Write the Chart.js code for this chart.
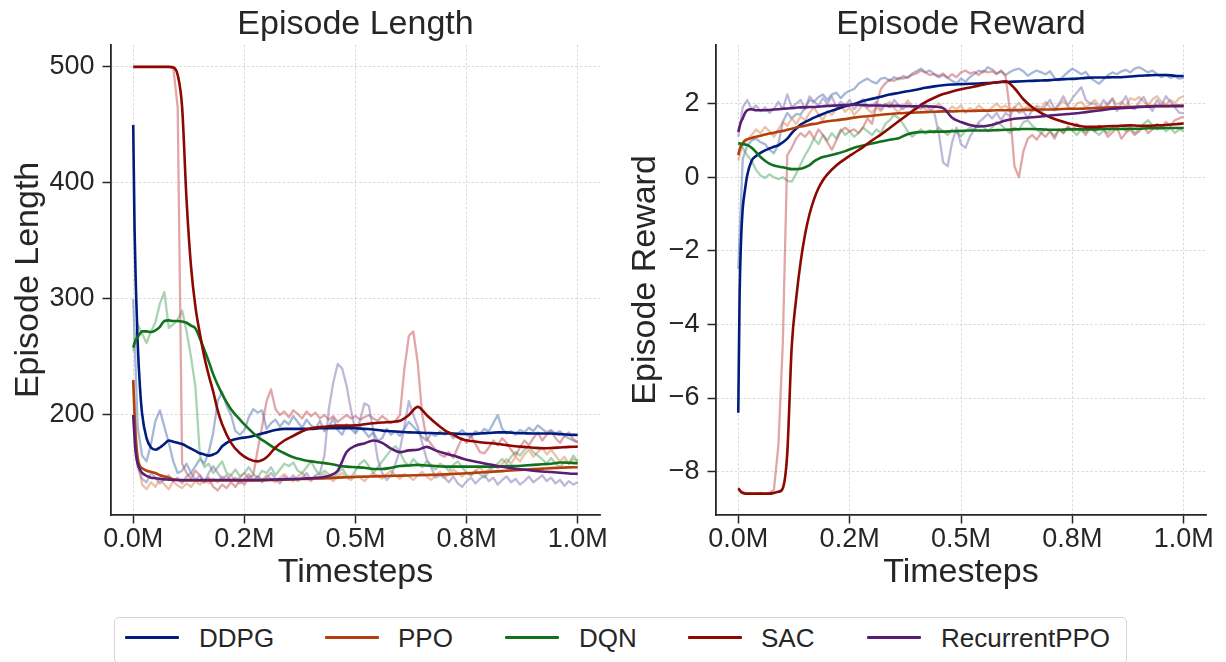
<!DOCTYPE html>
<html>
<head>
<meta charset="utf-8">
<script src="https://cdn.jsdelivr.net/npm/chart.js@4/dist/chart.umd.min.js"></script>
<style>
  body { margin: 0; background: #fff; }
  #page { position: relative; width: 1226px; height: 662px; overflow: hidden;
          font-family: 'Liberation Sans', Arial, sans-serif; color: #262626; }
  #lenChart { position: absolute; left: 0; top: 0; }
  #rewChart { position: absolute; left: 613px; top: 0; }
  #legend { position: absolute; left: 114px; top: 617px; width: 1013px; height: 47px;
            border: 1px solid #d4d4d4; border-radius: 5px; box-sizing: border-box; }
  .swatch { position: absolute; top: 18px; width: 54px; height: 3px; border-radius: 1px; }
  .label { position: absolute; top: 5px; font-size: 26px; line-height: 30px; white-space: nowrap; }
</style>
</head>
<body>
<div id="page">
  <canvas id="lenChart" width="613" height="600"></canvas>
  <canvas id="rewChart" width="613" height="600"></canvas>
  <div id="legend"></div>
</div>
<script>
// algorithms and colours
const algos = ['DDPG', 'PPO', 'DQN', 'SAC', 'RecurrentPPO'];
const darkColors = ['#001c7f', '#b1400d', '#12711c', '#8c0800', '#591e71'];
const rawColors = ['rgba(76,114,176,0.5)', 'rgba(221,132,82,0.5)', 'rgba(85,168,104,0.5)', 'rgba(196,78,82,0.5)', 'rgba(129,114,179,0.5)'];

// timesteps (thousands)
const rawSteps = [0,10,20,30,40,50,60,70,80,90,100,110,120,130,140,150,160,170,180,190,
  200,210,220,230,240,250,260,270,280,290,300,310,320,330,340,350,360,370,380,390,
  400,410,420,430,440,450,460,470,480,490,500,510,520,530,540,550,560,570,580,590,
  600,610,620,630,640,650,660,670,680,690,700,710,720,730,740,750,760,770,780,790,
  800,810,820,830,840,850,860,870,880,890,900,910,920,930,940,950,960,970,980,990,1000];
const smoothSteps = [0,3,6,10,15,
  20,30,40,50,60,70,80,90,100,
  110,120,130,140,150,160,170,180,190,200,
  220,240,260,280,300,320,340,360,380,400,
  420,440,460,480,500,520,540,560,580,600,
  620,640,660,680,700,720,740,760,780,800,
  820,840,860,880,900,920,940,960,980,1000];

const xTicks = [0, 250000, 500000, 750000, 1000000];
const xTickLabels = ['0.0M', '0.2M', '0.5M', '0.8M', '1.0M'];
const lenTicks = [200, 300, 400, 500];
const lenTickLabels = ['200', '300', '400', '500'];
const rewTicks = [-8, -6, -4, -2, 0, 2];
const rewTickLabels = ['\u22128', '\u22126', '\u22124', '\u22122', '0', '2'];

// Episode Length, raw
const rawLenDDPG = [300,190,165,160,175,195,204,190,176,160,
  150,152,158,150,156,162,158,168,185,212,
  220,208,200,186,183,187,198,205,202,204,
  188,193,196,190,195,192,199,194,189,196,
  191,188,195,186,190,197,187,183,192,188,
  184,190,186,181,185,178,180,188,183,186,
  182,188,194,190,186,181,178,184,182,186,
  183,185,180,184,187,183,181,186,184,188,
  186,193,200,188,184,186,183,187,185,189,
  186,191,188,185,187,184,186,182,180,178,176];
const rawLenPPO = [230,160,140,136,142,138,145,140,136,143,
  139,137,141,138,143,140,144,141,145,142,
  147,144,148,143,146,150,145,143,147,144,
  148,145,142,146,149,145,143,147,150,146,
  143,147,145,149,146,143,147,150,146,144,
  148,146,143,147,150,147,145,149,152,148,
  145,149,147,144,148,151,147,144,148,151,
  146,149,153,150,147,151,148,152,155,150,
  153,157,154,158,162,158,164,160,166,170,
  164,168,172,166,170,165,160,164,158,162,160];
const rawLenDQN = [255,278,270,262,272,280,296,306,275,278,
  282,290,272,250,224,165,155,158,150,155,
  160,150,148,153,147,150,155,149,146,152,
  150,155,148,153,158,156,159,152,150,155,
  160,153,148,152,149,146,150,154,148,146,
  152,158,161,156,150,155,160,165,170,173,
  168,160,156,162,158,155,160,157,153,158,
  156,152,157,160,155,150,148,152,149,146,
  151,155,158,162,158,164,168,165,170,173,
  168,165,162,158,163,158,155,160,158,165,160];
const rawLenSAC = [500,500,500,500,500,500,500,500,500,500,
  465,158,150,145,152,148,142,146,138,135,
  140,137,142,138,144,140,146,148,170,190,
  212,222,205,200,203,198,204,201,197,203,
  199,202,197,200,196,199,194,197,200,197,
  199,196,198,200,197,195,199,196,193,195,
  200,240,268,272,245,200,180,175,170,166,
  164,168,163,172,180,176,182,175,168,167,
  172,178,174,180,176,170,165,172,178,174,
  180,185,178,183,186,180,176,182,185,179,177];
const rawLenRPPO = [200,155,145,142,150,146,141,145,148,143,
  146,141,147,150,144,148,142,150,156,150,
  145,148,143,146,141,145,149,144,147,142,
  146,150,145,141,147,144,148,143,146,150,
  144,148,150,165,205,228,244,240,225,204,
  186,195,210,208,186,162,150,144,148,158,
  170,190,212,200,190,176,162,155,146,148,
  146,142,147,141,138,143,146,141,145,148,
  143,146,140,144,147,142,145,140,143,147,
  142,145,148,143,146,141,144,139,143,140,142];

// Episode Length, smoothed
const smLenDDPG = [450,360,310,262,225,
  201,180,172,170,172,175,178,177,176,
  175,173,171,169,167,166,165,166,168,173,
  178,180,181,183,185,187,188,188,188,188,
  188.5,188.5,188.5,188.5,188.5,188,187.5,186.5,186,185.5,
  185,184.8,184.5,184.3,184,184,183.6,183.6,184,184.5,
  185,185,184.5,184.2,184,184,184,183.5,183,182.8];
const smLenPPO = [230,200,178,163,156,
  154,152,151,150,148,147,146,144.5,144,
  143.5,143.5,143.5,143.5,143.5,143.5,143.5,143.5,143.5,143.5,
  143.5,143.5,143.5,143.5,143.8,144,144.2,144.5,144.8,145,
  145.3,145.6,146,146.3,146.6,146.9,147.1,147.3,147.5,147.7,
  147.9,148.1,148.3,148.5,148.8,149.2,149.6,150,150.4,150.9,
  151.4,151.9,152.4,152.9,153.4,153.8,154.2,154.5,154.8,155];
const smLenDQN = [258,262,265,267,270,
  272,272,271.5,273,276,281,281.5,281,281,
  280.5,279.5,277,274.5,266,256,246,235,226,218,
  205,196,188,181,176,171,167,163.5,161.5,160,
  159,158,156.5,155.5,155,154.5,153.5,153.5,154.5,156,
  156.5,157,156.5,156,155.5,155.5,155.5,155.5,155.5,155.5,
  155.5,156,156,156.5,157,157.5,158,159,158.8,158.4];
const smLenSAC = [500,500,500,500,500,
  500,500,500,500,500,500,500,499.5,493,
  465,385,328,293,270,250,234,220,204,192,
  176,167,162,160,163.5,172,178,182,186,188.5,
  189.5,190.3,190.8,190.8,191,192,192.8,193.5,194,195,
  200,207,200,193,187,183,179,177.5,176.5,175.8,
  175,174,173,172.5,171.8,171.3,171.5,172,172.5,172.7];
const smLenRPPO = [200,180,166,158,153,
  150,147.5,146,145.5,145,144.5,144.3,144,144,
  144,144,144,144,144,144,144,144,144,144,
  144,144,144,144,144.2,144.4,144.6,144.8,145,145.5,
  146,147.5,152,168,173.5,175.5,178,176,171,168,
  169.5,170,172.5,169.5,167,165,162.5,160.5,159,157.5,
  156,154.8,153.6,152.8,152,151.3,150.8,150.2,149.6,149.2];

// Episode Reward, raw
const rawRewDDPG = [-2.5,0.5,0.85,1.0,1.05,0.95,0.9,0.75,0.65,0.9,
  1.5,1.75,1.6,1.72,1.7,1.9,2.1,2.05,2.18,2.25,
  2.1,2.25,2.3,2.15,2.28,2.35,2.4,2.54,2.62,2.68,
  2.6,2.55,2.68,2.7,2.62,2.72,2.66,2.75,2.7,2.81,
  2.88,2.95,2.85,2.9,2.8,2.72,2.78,2.7,2.62,2.55,
  2.68,2.6,2.72,2.81,2.9,2.85,2.99,2.93,2.82,2.88,
  2.78,2.86,2.92,2.95,2.88,2.76,2.84,2.9,2.85,2.8,
  2.88,2.7,2.63,2.75,2.86,2.95,2.88,2.8,2.86,2.7,
  2.62,2.54,2.66,2.78,2.85,2.8,2.88,2.92,2.85,2.95,
  2.99,2.92,2.85,2.9,2.8,2.72,2.78,2.7,2.74,2.68,2.7];
const rawRewPPO = [0.45,0.9,1.0,1.15,1.3,1.2,1.37,1.25,1.1,1.3,
  1.5,1.4,1.6,1.45,1.65,1.55,1.75,1.9,1.7,1.55,
  1.8,1.7,1.85,1.95,1.78,1.9,1.7,1.82,1.98,1.85,
  1.75,1.9,1.8,1.95,2.05,1.88,1.76,1.92,2.09,1.95,
  1.82,1.95,1.85,1.78,1.9,2.0,1.88,1.8,1.92,1.85,
  1.95,1.75,1.88,1.82,1.95,1.85,1.78,1.9,2.0,1.88,
  1.95,1.82,1.9,2.02,1.85,1.92,1.8,1.95,1.88,2.05,
  1.9,1.82,1.95,2.08,1.92,1.85,2.0,2.05,1.9,1.98,
  2.1,1.95,1.88,2.02,2.12,1.98,2.05,1.92,2.15,2.1,
  2.18,2.05,1.95,2.12,2.2,2.05,1.98,2.1,2.02,2.15,2.2];
const rawRewDQN = [0.92,0.8,0.6,0.45,0.2,0.05,-0.02,0.08,0.0,-0.05,
  0.0,-0.1,-0.12,0.1,0.35,0.6,0.8,1.05,0.9,1.15,
  1.0,1.2,1.05,1.3,1.15,1.25,1.1,1.2,1.35,1.25,
  1.15,1.3,1.2,1.45,1.55,1.7,1.6,1.45,1.25,1.1,
  1.2,1.3,1.18,1.28,1.2,1.35,1.25,1.15,1.3,1.22,
  1.12,1.25,1.35,1.28,1.45,1.38,1.25,1.35,1.5,1.42,
  1.3,1.2,1.35,1.28,1.5,1.55,1.4,1.3,1.2,1.32,
  1.25,1.12,1.3,1.2,1.35,1.28,1.15,1.3,1.22,1.38,
  1.25,1.15,1.28,1.2,1.35,1.3,1.42,1.25,1.35,1.2,
  1.3,1.45,1.55,1.4,1.3,1.38,1.25,1.35,1.2,1.3,1.25];
const rawRewSAC = [-8.5,-8.55,-8.6,-8.6,-8.6,-8.58,-8.6,-8.58,-8.5,-7.3,
  -4.5,0.6,0.8,1.05,1.2,1.1,1.25,1.05,1.3,1.15,
  0.95,0.75,1.0,1.25,1.35,1.25,1.3,1.2,1.35,1.6,
  1.45,1.95,2.4,2.55,2.65,2.62,2.7,2.68,2.72,2.78,
  2.82,2.9,2.85,2.78,2.8,2.75,2.82,2.7,2.8,2.72,
  2.85,2.9,2.82,2.86,2.78,2.9,2.85,2.88,2.8,2.9,
  2.75,1.8,0.3,0.0,0.7,1.05,1.15,1.02,1.2,1.1,
  1.25,1.05,1.3,1.2,1.38,1.28,1.45,1.3,1.15,1.35,
  1.25,1.4,1.3,1.1,1.22,1.35,1.05,1.2,1.3,1.15,
  1.25,1.38,1.2,1.3,1.45,1.35,1.5,1.4,1.55,1.6,1.65];
const rawRewRPPO = [1.1,1.9,2.1,1.85,1.95,1.8,1.9,1.75,1.85,2.05,
  1.85,2.25,1.9,2.0,2.1,1.85,2.2,2.05,1.95,2.15,
  2.0,2.2,1.9,2.05,1.95,2.1,1.85,2.0,2.12,1.9,
  1.95,2.05,1.85,2.0,1.9,2.1,1.95,1.85,2.0,1.9,
  1.95,1.85,2.0,1.85,1.75,1.2,0.4,0.3,0.95,1.35,
  0.9,0.8,1.1,1.3,1.5,1.6,1.72,1.6,1.75,1.55,
  1.75,1.65,1.9,1.75,1.8,1.6,1.85,1.9,1.75,1.95,
  2.1,1.85,2.0,2.2,1.95,2.15,2.3,2.45,2.1,2.0,
  2.0,1.85,2.1,1.95,2.15,1.8,2.0,2.2,1.9,1.85,
  2.05,2.18,1.95,1.8,2.1,1.95,2.2,2.05,1.9,1.75,1.75];

// Episode Reward, smoothed
const smRewDDPG = [-6.4,-3.2,-1.8,-0.85,-0.35,
  0.05,0.45,0.58,0.66,0.73,0.78,0.83,0.87,0.95,
  1.05,1.2,1.32,1.43,1.5,1.56,1.62,1.67,1.72,1.77,
  1.85,1.93,1.99,2.07,2.13,2.19,2.25,2.29,2.34,2.38,
  2.43,2.47,2.5,2.52,2.53,2.54,2.55,2.56,2.58,2.59,
  2.6,2.61,2.62,2.63,2.64,2.66,2.67,2.68,2.7,2.71,
  2.71,2.72,2.72,2.74,2.76,2.77,2.78,2.78,2.76,2.75];
const smRewPPO = [0.6,0.75,0.85,0.93,1.0,
  1.03,1.07,1.1,1.13,1.16,1.19,1.21,1.24,1.26,
  1.29,1.32,1.35,1.38,1.4,1.43,1.45,1.47,1.5,1.52,
  1.55,1.58,1.62,1.65,1.67,1.7,1.72,1.74,1.75,1.76,
  1.77,1.78,1.79,1.79,1.8,1.8,1.81,1.81,1.82,1.82,
  1.82,1.83,1.83,1.84,1.84,1.85,1.86,1.86,1.87,1.88,
  1.89,1.9,1.9,1.91,1.92,1.93,1.94,1.94,1.95,1.95];
const smRewDQN = [0.92,0.92,0.91,0.9,0.89,
  0.88,0.8,0.68,0.55,0.45,0.37,0.32,0.29,0.27,
  0.24,0.22,0.22,0.23,0.27,0.33,0.43,0.5,0.55,0.58,
  0.64,0.71,0.8,0.86,0.92,0.97,1.02,1.06,1.17,1.22,
  1.23,1.24,1.24,1.25,1.26,1.27,1.27,1.27,1.28,1.29,
  1.3,1.31,1.31,1.3,1.29,1.29,1.3,1.3,1.3,1.3,
  1.31,1.31,1.31,1.32,1.32,1.33,1.33,1.34,1.34,1.34];
const smRewSAC = [-8.45,-8.5,-8.55,-8.58,-8.6,
  -8.6,-8.6,-8.6,-8.6,-8.6,-8.6,-8.58,-8.55,-8.45,
  -7.5,-4.6,-3.3,-2.3,-1.55,-1.0,-0.6,-0.3,-0.08,0.08,
  0.32,0.5,0.66,0.82,1.0,1.16,1.34,1.52,1.7,1.88,
  2.04,2.16,2.26,2.33,2.39,2.44,2.49,2.54,2.58,2.61,
  2.42,2.12,1.9,1.74,1.63,1.54,1.47,1.41,1.37,1.37,
  1.38,1.39,1.4,1.41,1.4,1.4,1.41,1.42,1.44,1.46];
const smRewRPPO = [1.23,1.38,1.5,1.6,1.74,
  1.82,1.85,1.82,1.82,1.82,1.83,1.84,1.85,1.86,
  1.87,1.88,1.89,1.9,1.9,1.91,1.91,1.92,1.93,1.94,
  1.95,1.96,1.97,1.96,1.95,1.95,1.94,1.94,1.93,1.93,
  1.93,1.92,1.88,1.62,1.5,1.42,1.38,1.4,1.46,1.54,
  1.59,1.61,1.63,1.65,1.68,1.7,1.72,1.74,1.77,1.8,
  1.83,1.86,1.88,1.89,1.91,1.92,1.93,1.93,1.93,1.93];

const lenRaw = [rawLenDDPG, rawLenPPO, rawLenDQN, rawLenSAC, rawLenRPPO];
const lenSmooth = [smLenDDPG, smLenPPO, smLenDQN, smLenSAC, smLenRPPO];
const rewRaw = [rawRewDDPG, rawRewPPO, rawRewDQN, rawRewSAC, rawRewRPPO];
const rewSmooth = [smRewDDPG, smRewPPO, smRewDQN, smRewSAC, smRewRPPO];

Chart.defaults.font.family = "'Liberation Sans', Arial, sans-serif";
Chart.defaults.color = '#262626';

const ink = '#262626';

function pts(steps, vals) {
  return vals.map((v, i) => ({ x: steps[i] * 1000, y: v }));
}

function buildDatasets(raw, smooth) {
  const sets = [];
  algos.forEach((name, i) => {
    sets.push({
      label: name, data: pts(smoothSteps, smooth[i]),
      borderColor: darkColors[i], borderWidth: 2.6,
      cubicInterpolationMode: 'monotone', order: 4 - i
    });
  });
  algos.forEach((name, i) => {
    sets.push({
      label: name + ' raw', data: pts(rawSteps, raw[i]),
      borderColor: rawColors[i], borderWidth: 2.3,
      tension: 0, order: 14 - i
    });
  });
  return sets;
}

function axisGrid() {
  return { color: '#cfcfcf', lineWidth: 0.8, tickLength: 8.5, tickColor: ink, tickWidth: 1.5 };
}

function makeChart(id, cfg) {
  return new Chart(document.getElementById(id), {
    type: 'line',
    data: { datasets: buildDatasets(cfg.raw, cfg.smooth) },
    options: {
      responsive: false,
      animation: false,
      devicePixelRatio: 1,
      layout: { padding: { left: 0, right: cfg.padRight, top: 0, bottom: 0 } },
      elements: { point: { radius: 0 }, line: { borderJoinStyle: 'round' } },
      plugins: {
        legend: { display: false },
        tooltip: { enabled: false },
        title: {
          display: true, text: cfg.title, color: ink, fullSize: false,
          font: { size: 34, weight: 'normal' }, padding: { top: 4, bottom: 0 }
        }
      },
      scales: {
        x: {
          type: 'linear', min: -50000, max: 1050000,
          afterBuildTicks: s => { s.ticks = xTicks.map(v => ({ value: v })); },
          afterFit: s => { s.height = 85; },
          ticks: { callback: (v, i) => xTickLabels[i], font: { size: 27 }, color: ink, padding: 0, maxRotation: 0, autoSkip: false },
          grid: axisGrid(),
          border: { display: true, color: ink, width: 1.8, dash: [2.5, 2] },
          title: { display: true, text: 'Timesteps', color: ink, font: { size: 34 }, padding: { top: 0, bottom: 7 } }
        },
        y: {
          type: 'linear', min: cfg.yMin, max: cfg.yMax,
          afterBuildTicks: s => { s.ticks = cfg.yTicks.map(v => ({ value: v })); },
          afterFit: s => { s.width = cfg.yWidth; },
          ticks: { callback: (v, i) => cfg.yLabels[i], font: { size: 27 }, color: ink, padding: 8, autoSkip: false },
          grid: axisGrid(),
          border: { display: true, color: ink, width: 1.8, dash: [2.5, 2] },
          title: { display: true, text: cfg.title, color: ink, font: { size: 34 }, padding: { top: cfg.yTitlePad, bottom: 0 } }
        }
      }
    }
  });
}

makeChart('lenChart', {
  title: 'Episode Length', raw: lenRaw, smooth: lenSmooth,
  yMin: 113.8, yMax: 519, yTicks: lenTicks, yLabels: lenTickLabels,
  yWidth: 111, yTitlePad: 8, padRight: 13
});
makeChart('rewChart', {
  title: 'Episode Reward', raw: rewRaw, smooth: rewSmooth,
  yMin: -9.18, yMax: 3.6, yTicks: rewTicks, yLabels: rewTickLabels,
  yWidth: 103, yTitlePad: 12, padRight: 20
});

// shared legend
const legend = document.getElementById('legend');
const swatchX = [10, 210, 390, 573, 752];
const labelX = [84, 283, 464, 646, 826];
algos.forEach((name, i) => {
  const sw = document.createElement('div');
  sw.className = 'swatch';
  sw.style.left = swatchX[i] + 'px';
  sw.style.background = darkColors[i];
  legend.appendChild(sw);
  const lb = document.createElement('div');
  lb.className = 'label';
  lb.style.left = labelX[i] + 'px';
  lb.textContent = name;
  legend.appendChild(lb);
});
</script>
</body>
</html>
